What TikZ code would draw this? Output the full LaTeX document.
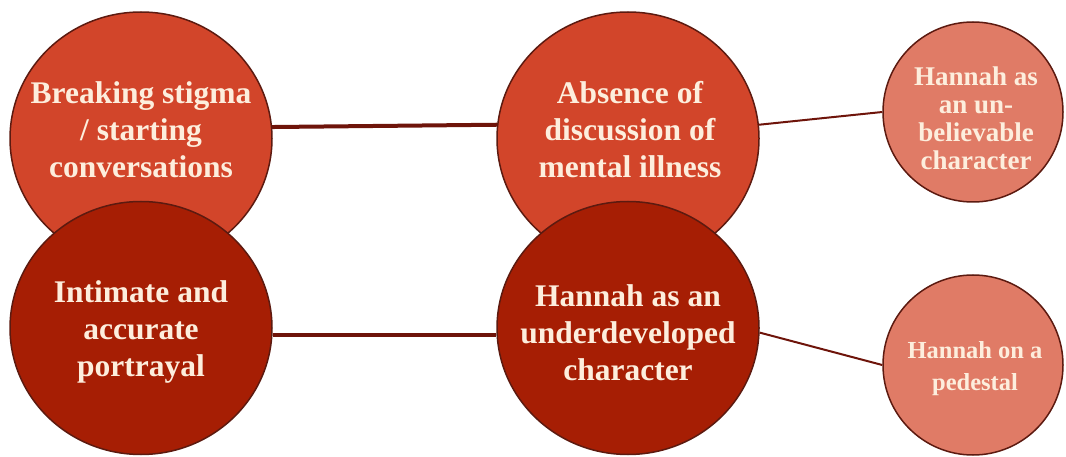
\documentclass[tikz,border=0pt]{standalone}
\usepackage{fontspec}
\setmainfont{Liberation Serif}
\usetikzlibrary{shapes.geometric}
\definecolor{upfill}{HTML}{D2452A}
\definecolor{lowfill}{HTML}{A61E04}
\definecolor{smallfill}{HTML}{E07B66}
\definecolor{edgec}{HTML}{5C1A10}
\definecolor{linkc}{HTML}{6E140A}
\definecolor{txtc}{HTML}{FDEEDD}
\begin{document}
\begin{tikzpicture}[x=1pt,y=-1pt,
  bigup/.style={ellipse, draw=edgec, line width=1.5pt, fill=upfill, minimum width=262pt, minimum height=253pt, inner sep=0pt},
  biglow/.style={bigup, fill=lowfill},
  smallc/.style={ellipse, draw=edgec, line width=1.5pt, fill=smallfill, minimum width=180pt, minimum height=180pt, inner sep=0pt},
  bigtxt/.style={text=txtc, align=center, font=\bfseries\fontsize{31.5}{37}\selectfont, inner sep=0pt},
  smalltxtA/.style={text=txtc, align=center, font=\bfseries\fontsize{27}{28}\selectfont, inner sep=0pt},
  smalltxtB/.style={text=txtc, align=center, font=\bfseries\fontsize{24.5}{32}\selectfont, inner sep=0pt},
  thicklink/.style={draw=linkc, line width=4pt},
  thinlink/.style={draw=linkc, line width=2pt}]
\useasboundingbox (0,0) rectangle (1066,457);
\node[bigup] (A) at (141,138.5) {};
\node[bigup] (C) at (628,138.5) {};
\node[biglow] (B) at (141,328) {};
\node[biglow] (D) at (628,328) {};
\node[smallc] (E) at (973,112) {};
\node[smallc] (F) at (973,365) {};
\draw[thicklink] (A.5.5) -- (C.174.5);
\draw[thicklink] (B.-3) -- (D.183);
\draw[thinlink] (C.6) -- (E.180);
\draw[thinlink] (D.-2) -- (F.180);
\node[bigtxt] (tA) at (141,130) {Breaking stigma\\/ starting\\conversations};
\node[bigtxt] (tC) at (630,130) {Absence of\\discussion of\\mental illness};
\node[bigtxt] (tB) at (141,332) {Intimate and\\accurate\\portrayal};
\node[bigtxt] (tD) at (628,333) {Hannah as an\\underdeveloped\\character};
\node[smalltxtA] (tE) at (976,118) {Hannah as\\an un-\\believable\\character};
\node[smalltxtB] (tF) at (975,369) {Hannah on a\\pedestal};
\end{tikzpicture}
\end{document}
